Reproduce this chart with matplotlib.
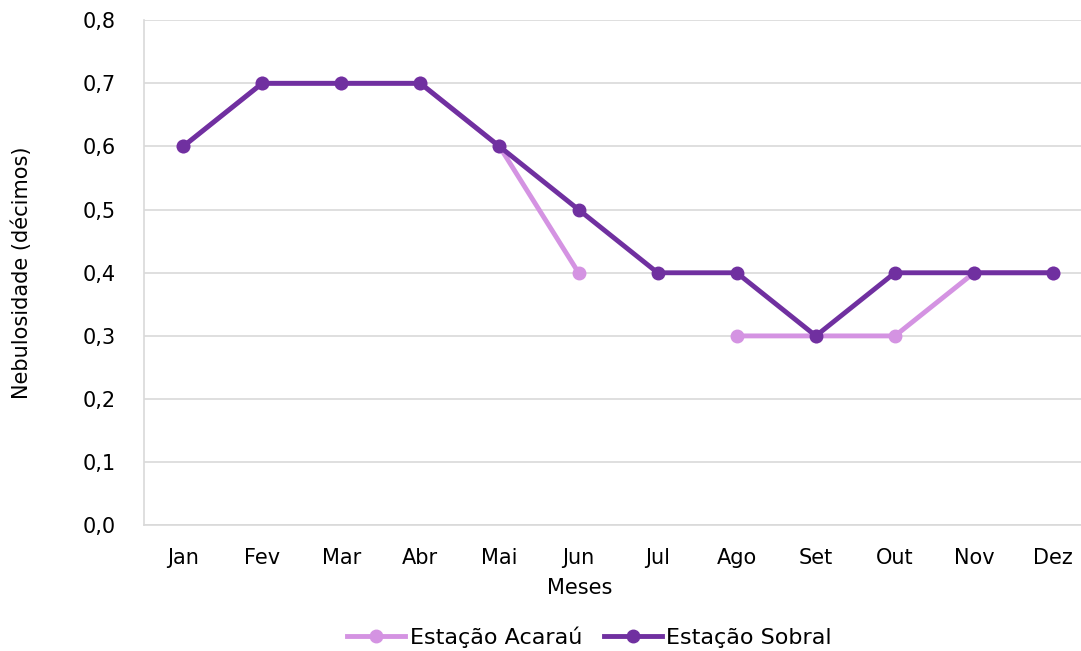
import numpy as np
import matplotlib.pyplot as plt

meses = ['Jan', 'Fev', 'Mar', 'Abr', 'Mai', 'Jun', 'Jul', 'Ago', 'Set', 'Out', 'Nov', 'Dez']
acarau = [0.6, 0.7, 0.7, 0.7, 0.6, 0.4, np.nan, 0.3, 0.3, 0.3, 0.4, 0.4]
sobral = [0.6, 0.7, 0.7, 0.7, 0.6, 0.5, 0.4, 0.4, 0.3, 0.4, 0.4, 0.4]

plt.rcParams['font.family'] = ['DejaVu Sans']
fs = 15

fig = plt.figure(figsize=(10.81, 6.51), dpi=100)
# plot area runs a bit past the right edge of the picture, as in the original
ax = fig.add_axes([0.1328, 0.193, 0.878, 0.776])

x = np.arange(len(meses))
ax.plot(x, acarau, color='#D493E2', lw=3.5, marker='o', ms=9, label='Estação Acaraú', zorder=3)
ax.plot(x, sobral, color='#7030A0', lw=3.5, marker='o', ms=9, label='Estação Sobral', zorder=4)

ax.set_xlim(-0.5, len(meses) - 0.5)
ax.set_ylim(0, 0.8)
yt = np.arange(0, 0.81, 0.1)
ax.set_yticks(yt)
ax.set_yticklabels([f'{v:.1f}'.replace('.', ',') for v in yt])
ax.set_xticks(x)
ax.set_xticklabels(meses)
ax.tick_params(labelsize=fs, length=0)
ax.tick_params(axis='x', pad=16)
ax.tick_params(axis='y', pad=20)

ax.grid(axis='y', color='#D9D9D9', lw=1.2)
ax.set_axisbelow(True)
for s in ['top', 'right']:
    ax.spines[s].set_visible(False)
for s in ['left', 'bottom']:
    ax.spines[s].set_color('#D9D9D9')
    ax.spines[s].set_linewidth(1.2)

ax.set_xlabel('Meses', fontsize=fs)
ax.xaxis.set_label_coords(0.46, -0.105)
ax.set_ylabel('Nebulosidade (décimos)', fontsize=fs)
ax.yaxis.set_label_coords(-0.118, 0.5)

ax.legend(loc='upper center', bbox_to_anchor=(0.47, -0.16), ncol=2, frameon=False,
          fontsize=16, handlelength=2.6, columnspacing=1.0, handletextpad=0.2)

fig.savefig('out.png', dpi=100)
